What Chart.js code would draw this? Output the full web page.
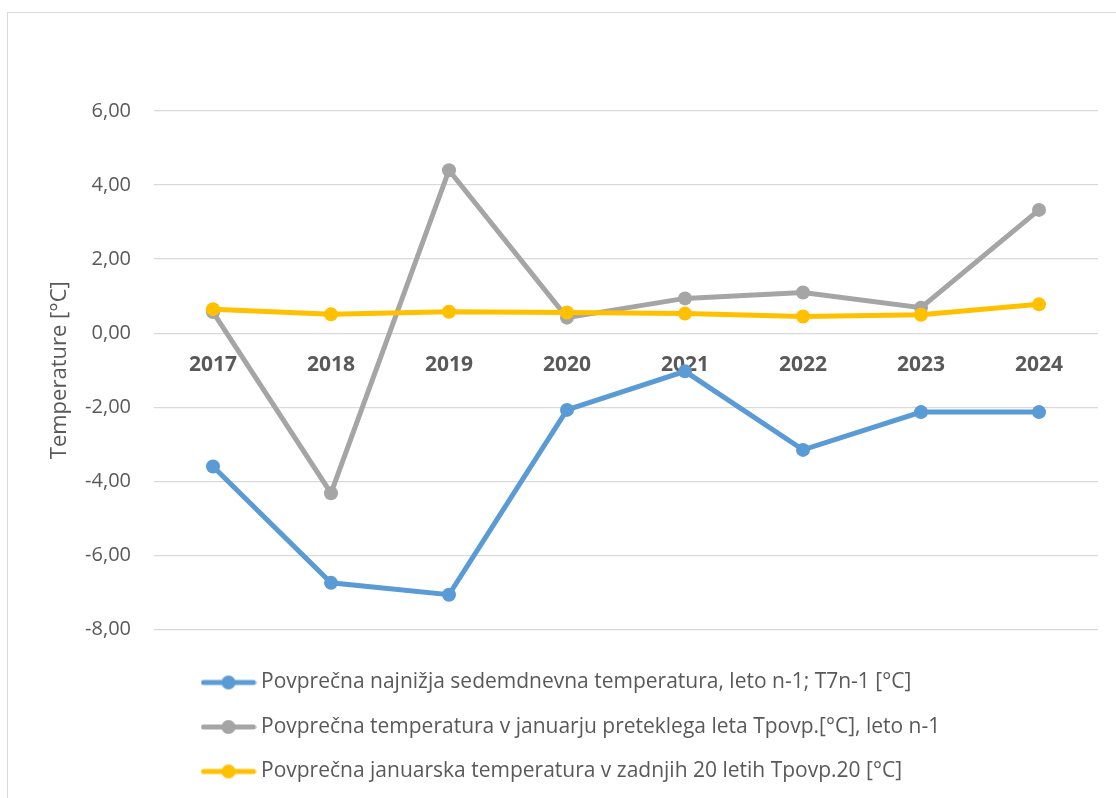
<!DOCTYPE html>
<html>
<head>
<meta charset="utf-8">
<script src="https://cdn.jsdelivr.net/npm/chart.js@4.4.1/dist/chart.umd.min.js"></script>
<style>
  body { margin: 0; background: #fff; }
  #frame { position: absolute; left: 7px; top: 12px; width: 1200px; height: 900px;
           border-left: 1.5px solid #d9d9d9; border-top: 1.5px solid #d9d9d9; }
  #wrap { position: absolute; left: 0; top: 0; width: 1116px; height: 798px; }
</style>
</head>
<body>
<div id="frame"></div>
<div id="wrap"><canvas id="chart"></canvas></div>
<script>
// leta
const years = ['2017', '2018', '2019', '2020', '2021', '2022', '2023', '2024'];

// Povprečna najnižja sedemdnevna temperatura, leto n-1; T7n-1 [°C]
const t7 = [-3.60, -6.74, -7.06, -2.07, -1.03, -3.15, -2.13, -2.13];
// Povprečna temperatura v januarju preteklega leta
const tJan = [0.57, -4.32, 4.40, 0.42, 0.94, 1.10, 0.69, 3.33];
// Povprečna januarska temperatura v zadnjih 20 letih
const t20 = [0.65, 0.51, 0.58, 0.56, 0.53, 0.45, 0.50, 0.78];

const seriesNames = [
    'Povprečna najnižja sedemdnevna temperatura, leto n-1; T7n-1 [°C]',
    'Povprečna temperatura v januarju preteklega leta Tpovp.[°C], leto n-1',
    'Povprečna januarska temperatura v zadnjih 20 letih Tpovp.20 [°C]'
];
const colors = ['#5b9bd5', '#a5a5a5', '#ffc000'];

const yTicks = [-8, -6, -4, -2, 0, 2, 4, 6];

const FONT = "'Open Sans', 'Liberation Sans', sans-serif";
const TEXT = '#595959';

// ikona za legendo: crta s krogcem
function legendIcon(color) {
    let c = document.createElement('canvas');
    c.width = 56;
    c.height = 16;
    let ctx = c.getContext('2d');
    ctx.strokeStyle = color;
    ctx.lineWidth = 5;
    ctx.lineCap = 'round';
    ctx.beginPath();
    ctx.moveTo(3, 8);
    ctx.lineTo(53, 8);
    ctx.stroke();
    ctx.fillStyle = color;
    ctx.beginPath();
    ctx.arc(28, 8, 7, 0, Math.PI * 2);
    ctx.fill();
    return c;
}
const icons = colors.map(legendIcon);

// legenda je v excelu poravnana levo pri x=202
const legendShift = {
    id: 'legendShift',
    afterLayout(chart) {
        chart.legend.left = 183;
        chart.legend.top += 19;
        chart.legend.bottom += 19;
    }
};

function makeDataset(i, values, order) {
    return {
        label: seriesNames[i],
        data: values,
        borderColor: colors[i],
        backgroundColor: colors[i],
        borderWidth: 5,
        pointRadius: 7,
        pointHoverRadius: 7,
        pointBorderWidth: 0,
        tension: 0,
        order: order
    };
}

let ctx = document.getElementById('chart').getContext('2d');
new Chart(ctx, {
    type: 'line',
    data: {
        labels: years,
        datasets: [
            makeDataset(0, t7, 3),
            makeDataset(1, tJan, 2),
            makeDataset(2, t20, 1)
        ]
    },
    options: {
        responsive: true,
        maintainAspectRatio: false,
        animation: false,
        layout: { padding: { top: 111, right: 18, bottom: 25, left: 0 } },
        scales: {
            x: {
                type: 'category',
                position: { y: 0 },
                offset: true,
                grid: { display: false },
                border: { display: false },
                ticks: {
                    color: TEXT,
                    padding: 11,
                    maxRotation: 0,
                    font: { family: FONT, size: 21, weight: 'bold' }
                }
            },
            y: {
                min: -8,
                max: 6,
                afterBuildTicks(scale) {
                    scale.ticks = yTicks.map(v => ({ value: v }));
                },
                afterFit(scale) {
                    scale.width = 154;
                },
                grid: { color: '#d9d9d9', lineWidth: 1.3, drawTicks: false },
                border: { display: false },
                ticks: {
                    color: TEXT,
                    padding: 23,
                    font: { family: FONT, size: 20 },
                    callback: v => v.toFixed(2).replace('.', ',')
                },
                title: {
                    display: true,
                    text: 'Temperature [°C]',
                    color: TEXT,
                    font: { family: FONT, size: 22 },
                    padding: { top: 47 }
                }
            }
        },
        plugins: {
            legend: {
                position: 'bottom',
                align: 'start',
                labels: {
                    usePointStyle: true,
                    pointStyleWidth: 44,
                    padding: 23.5,
                    color: TEXT,
                    font: { family: FONT, size: 21 },
                    generateLabels(chart) {
                        const items = Chart.defaults.plugins.legend.labels.generateLabels(chart);
                        items.sort((a, b) => a.datasetIndex - b.datasetIndex);
                        items.forEach(item => { item.pointStyle = icons[item.datasetIndex]; });
                        return items;
                    }
                }
            },
            tooltip: { enabled: false }
        }
    },
    plugins: [legendShift]
});
</script>
</body>
</html>
